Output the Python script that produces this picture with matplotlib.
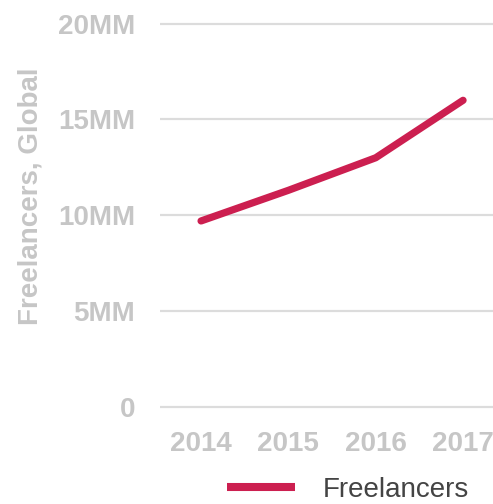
import matplotlib
matplotlib.use("Agg")
import matplotlib.pyplot as plt

plt.rcParams['font.family'] = ['Liberation Sans', 'DejaVu Sans']

years = [2014, 2015, 2016, 2017]
freelancers = [9.7, 11.3, 13.0, 16.0]  # millions
y_ticks = [0, 5, 10, 15, 20]
y_tick_labels = ['0', '5MM', '10MM', '15MM', '20MM']

line_color = '#cc1f50'
grey = '#c6c6c6'

fig = plt.figure(figsize=(4.93, 5.04), dpi=100)
ax = fig.add_axes([160 / 493, 0.155, 338 / 493, 0.836])

ax.plot(years, freelancers, color=line_color, lw=5.2, solid_capstyle='round',
        solid_joinstyle='round', label='Freelancers')

ax.set_xlim(2013.53, 2017.40)
ax.set_ylim(-1, 21)
ax.set_yticks(y_ticks)
ax.set_yticklabels(y_tick_labels)
ax.set_xticks(years)
ax.set_xticklabels([str(y) for y in years])

for s in ax.spines.values():
    s.set_visible(False)
ax.grid(axis='y', color='#dcdcdc', lw=1.6)
ax.set_axisbelow(True)
ax.tick_params(axis='both', length=0, labelsize=20, colors=grey)
ax.tick_params(axis='y', pad=18)
ax.tick_params(axis='x', pad=4)
for lab in ax.get_xticklabels() + ax.get_yticklabels():
    lab.set_fontweight('bold')

fig.text(31 / 493, 1 - 196 / 504, 'Freelancers, Global', rotation=90,
         ha='center', va='center', fontsize=20, fontweight='bold', color=grey)

leg = fig.legend(loc='center', bbox_to_anchor=(348 / 493, 14 / 504), frameon=False,
                 fontsize=20, handlelength=2.45, handletextpad=1.0, borderpad=0)
for t in leg.get_texts():
    t.set_color('#444444')
for h in leg.legend_handles:
    h.set_linewidth(5.8)
    h.set_solid_capstyle('butt')

fig.savefig('out.png', dpi=100)
